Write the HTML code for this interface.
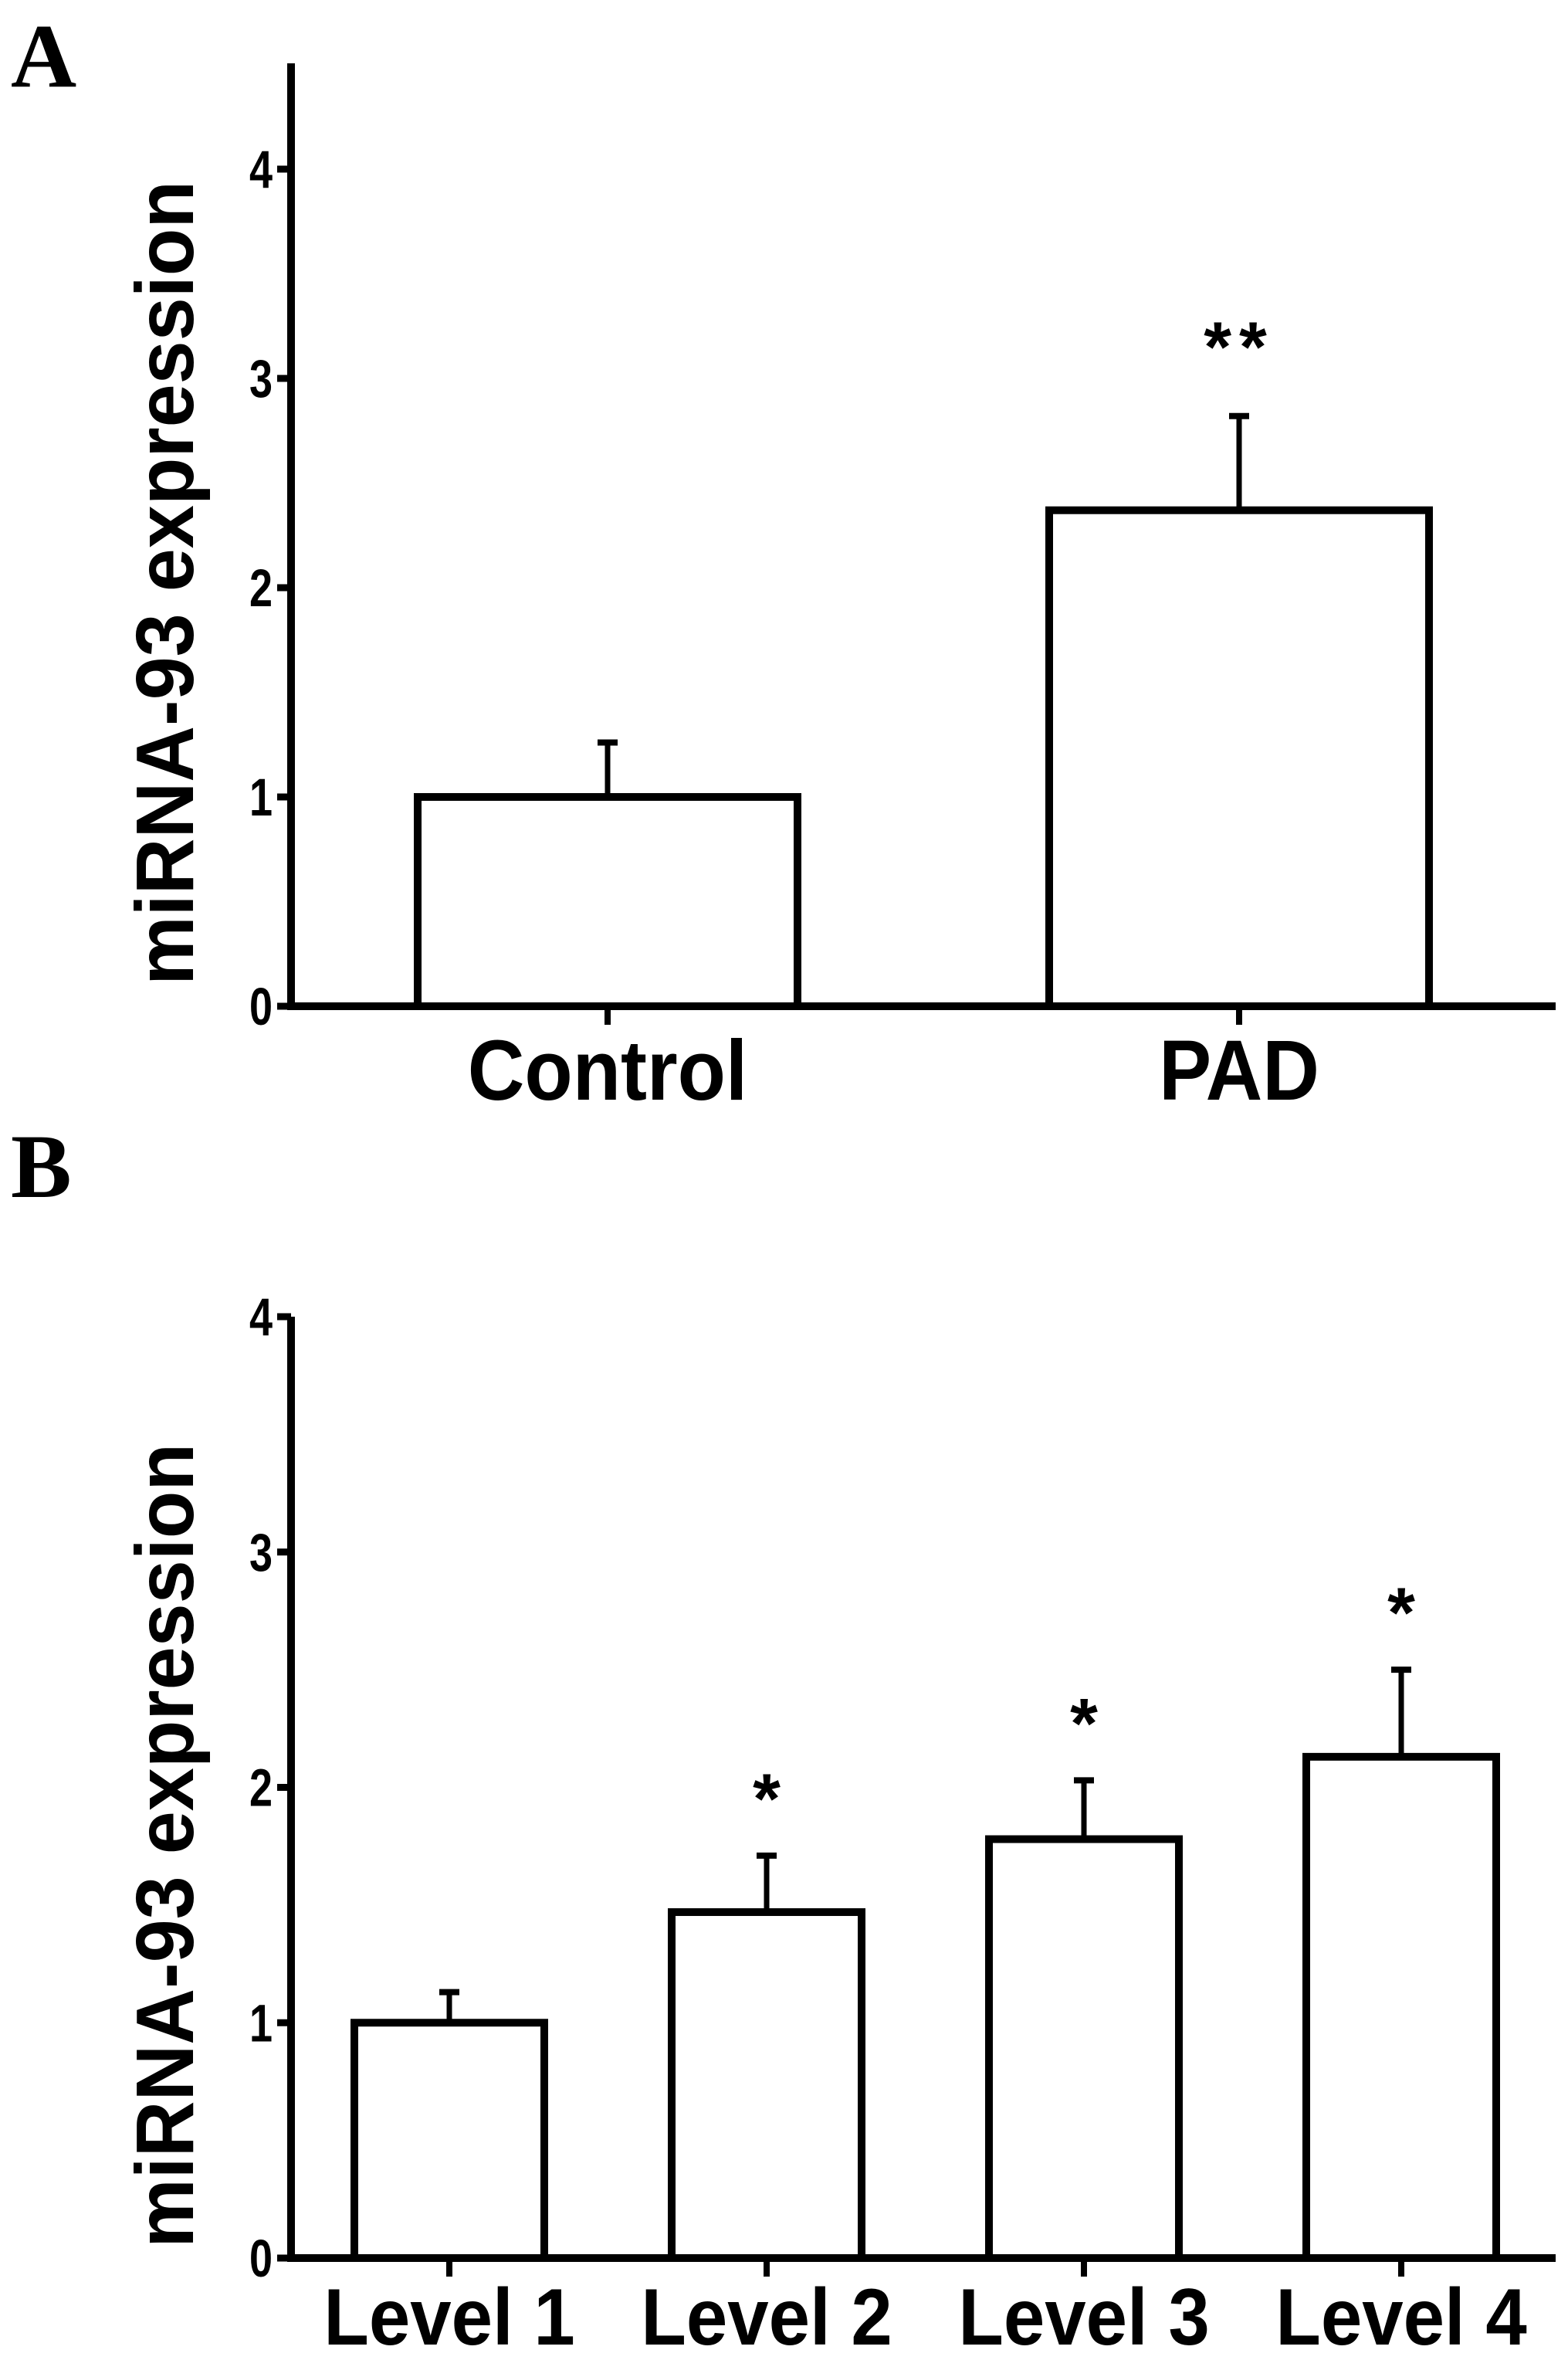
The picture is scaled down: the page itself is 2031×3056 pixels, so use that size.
<!DOCTYPE html>
<html><head><meta charset="utf-8"><style>
html,body{margin:0;padding:0;background:#fff;}
svg{display:block;}
text{font-family:"Liberation Sans",Arial,sans-serif;font-weight:bold;fill:#000;}
</style></head><body>
<svg id="chart" width="2031" height="3056" viewBox="0 0 2031 3056" xmlns="http://www.w3.org/2000/svg">
<text x="14" y="112" style="font-family:'Liberation Serif',serif;font-size:118px;">A</text>
<text x="14" y="1550" style="font-family:'Liberation Serif',serif;font-size:118px;">B</text>
<g id="pa"></g>
<g id="pb"></g>
</svg>
<script>
const catsA = ["Control","PAD"];
const valsA = [1.0, 2.37];
const errsA = [0.26, 0.45];
const starsA = ["", "**"];
const ticksA = [0,1,2,3,4];

const catsB = ["Level 1","Level 2","Level 3","Level 4"];
const valsB = [1.0, 1.47, 1.78, 2.13];
const errsB = [0.13, 0.24, 0.25, 0.37];
const starsB = ["", "*", "*", "*"];
const ticksB = [0,1,2,3,4];

const NS="http://www.w3.org/2000/svg";
function mk(g,tag,attrs,txt){const e=document.createElementNS(NS,tag);for(const k in attrs)e.setAttribute(k,attrs[k]);if(txt!==undefined)e.textContent=txt;g.appendChild(e);return e;}

function draw(g,cfg,cats,vals,errs,stars,ticks){
  const y=v=>cfg.y0-(v/4)*(cfg.y0-cfg.y4);
  const cx=i=>cfg.axX+cfg.firstC+i*cfg.step;
  const ya=mk(g,"line",{x1:cfg.axX,y1:cfg.axTop,x2:cfg.axX,y2:cfg.y0+5,stroke:"#000","stroke-width":10});
  
  
  const xa=mk(g,"line",{x1:cfg.axX-5,y1:cfg.y0,x2:cfg.xEnd,y2:cfg.y0,stroke:"#000","stroke-width":10});
  
  
  ticks.forEach(t=>{
    const tl=mk(g,"line",{x1:cfg.axX-18,y1:y(t),x2:cfg.axX,y2:y(t),stroke:"#000","stroke-width":9});
    
    
    const tx=mk(g,"text",{x:0,y:0,"text-anchor":"end","font-size":60,transform:`translate(${cfg.axX-24},${y(t)+24}) scale(0.9,1.15)`},String(t));
    
    
  });
  const tt=mk(g,"text",{x:0,y:0,"text-anchor":"middle","font-size":cfg.titleSize,transform:`translate(${cfg.titleX},${cfg.titleY}) rotate(-90) scale(1.05,1.1)`},"miRNA-93 expression");
  
  
  cats.forEach((c,i)=>{
    const x=cx(i), w=cfg.barW;
    const top=y(vals[i]), et=y(vals[i]+errs[i]);
    const eb=mk(g,"line",{x1:x,y1:top,x2:x,y2:et,stroke:"#000","stroke-width":7});
    
    
    const cap=mk(g,"line",{x1:x-13,y1:et,x2:x+13,y2:et,stroke:"#000","stroke-width":8});
    
    
    const r=mk(g,"rect",{x:x-w/2,y:top,width:w,height:cfg.y0-top,fill:"#fff",stroke:"#000","stroke-width":10});
    
    
    const xt=mk(g,"line",{x1:x,y1:cfg.y0,x2:x,y2:cfg.y0+24,stroke:"#000","stroke-width":8});
    
    
    const lb=mk(g,"text",{x:0,y:0,"text-anchor":"middle","font-size":cfg.labelSize,transform:`translate(${x},${cfg.labelY}) scale(1,1.08)`},c);
    
    
    if(stars[i]){
      const s=mk(g,"text",{x:x,y:et-cfg.starGap,"text-anchor":"middle","font-size":92,"letter-spacing":cfg.starLS},stars[i]);
      
      
    }
  });
}
draw(document.getElementById('pa'),{axX:377,axTop:82,y0:1303,y4:219,xEnd:2015,firstC:410,step:818,barW:492,titleX:250,titleY:755,titleSize:96,labelY:1424,labelSize:102,starGap:58,starLS:10},catsA,valsA,errsA,starsA,ticksA);
draw(document.getElementById('pb'),{axX:377,axTop:1705,y0:2924,y4:1705,xEnd:2015,firstC:205,step:411,barW:246,titleX:250,titleY:2390,titleSize:96,labelY:3036,labelSize:96,starGap:42,starLS:0},catsB,valsB,errsB,starsB,ticksB);
</script>
</body></html>
